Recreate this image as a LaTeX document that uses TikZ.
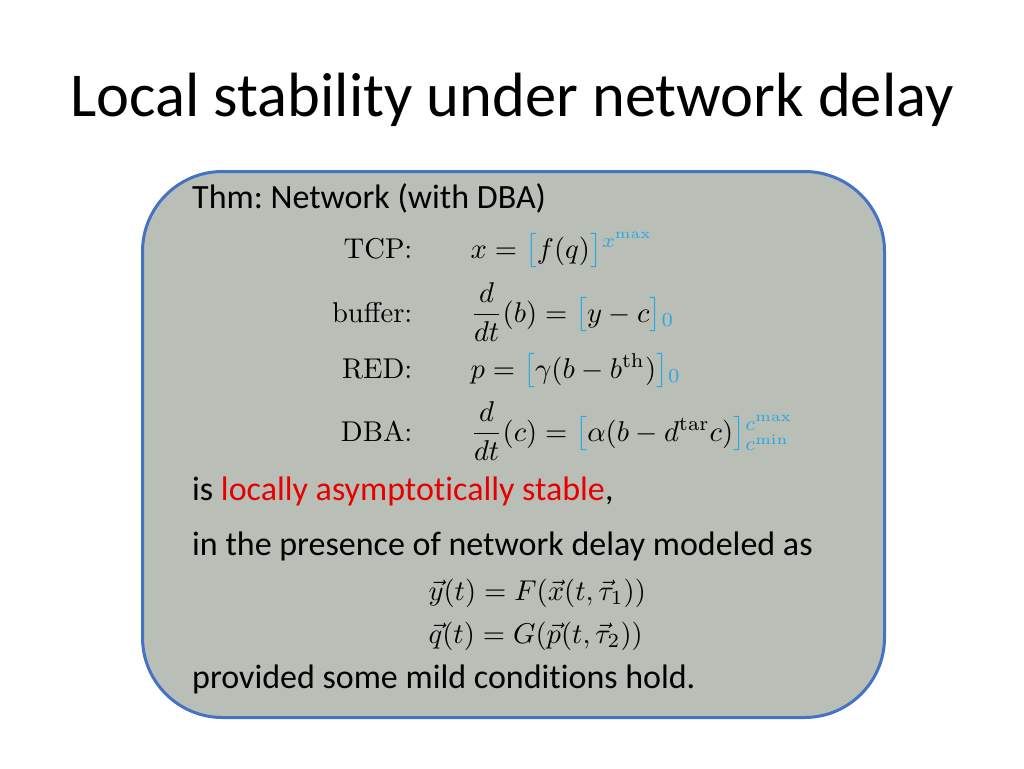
\documentclass[tikz,border=0pt]{standalone}
\usepackage{amsmath}
\usepackage[no-math]{fontspec}
\setmainfont{Carlito}[Ligatures=NoCommon]
\newfontfamily\lmr{Latin Modern Roman}
\definecolor{boxfill}{RGB}{185,191,183}
\definecolor{boxline}{RGB}{68,114,196}
\definecolor{mblue}{RGB}{40,168,224}
\definecolor{hired}{RGB}{230,0,0}
\newcommand{\bl}[1]{\textcolor{mblue}{#1}}
\frenchspacing
\begin{document}
\begin{tikzpicture}[x=1pt,y=-1pt,
  body/.style={font=\fontsize{34}{40}\selectfont, anchor=base west, inner sep=0},
  lab/.style={font=\lmr\normalsize, scale=2.86, anchor=base east, inner sep=0},
  eq/.style={font=\normalsize, scale=2.86, anchor=base west, inner sep=0}]
\useasboundingbox (0,0) rectangle (1024,768);
\fill[white] (0,0) rectangle (1024,768);
\node[font=\fontsize{62.5}{72}\selectfont, anchor=base, inner sep=0] (title) at (512,116) {Local stability under network delay};
\node[draw=boxline, line width=3pt, fill=boxfill, rounded corners=80pt,
  minimum width=742pt, minimum height=546pt, anchor=north west, inner sep=0] (box) at (141,170) {};
\node[body] (thm) at (192,208) {Thm: Network (with DBA)};
\node[lab] (l1) at (413,258) {TCP:};
\node[eq] (e1) at (470,258) {$x = \bl{\bigl[}f(q)\bl{\bigr]}^{\bl{x^{\max}}}$};
\node[lab] (l2) at (413,322) {buffer:};
\node[eq] (e2) at (470,322) {$\dfrac{d}{dt}(b) = \bl{\bigl[}y-c\bl{\bigr]}_{\bl{0}}$};
\node[lab] (l3) at (413,378) {RED:};
\node[eq] (e3) at (470,378) {$p = \bl{\bigl[}\gamma(b-b^{\mathrm{th}})\bl{\bigr]}_{\bl{0}}$};
\node[lab] (l4) at (413,441) {DBA:};
\node[eq] (e4) at (470,441) {$\dfrac{d}{dt}(c) = \bl{\bigl[}\alpha(b-d^{\mathrm{tar}}c)\bl{\bigr]}^{\bl{c^{\max}}}_{\bl{c^{\min}}}$};
\node[body] (s1) at (192,500) {is \textcolor{hired}{locally asymptotically stable},};
\node[body] (s2) at (192,555) {in the presence of network delay modeled as};
\node[eq] (v1) at (428,600) {$\vec{y}(t) = F(\vec{x}(t,\vec{\tau}_1))$};
\node[eq] (v2) at (428,643) {$\vec{q}(t) = G(\vec{p}(t,\vec{\tau}_2))$};
\node[body] (s3) at (192,688) {provided some mild conditions hold.};
\end{tikzpicture}
\end{document}
